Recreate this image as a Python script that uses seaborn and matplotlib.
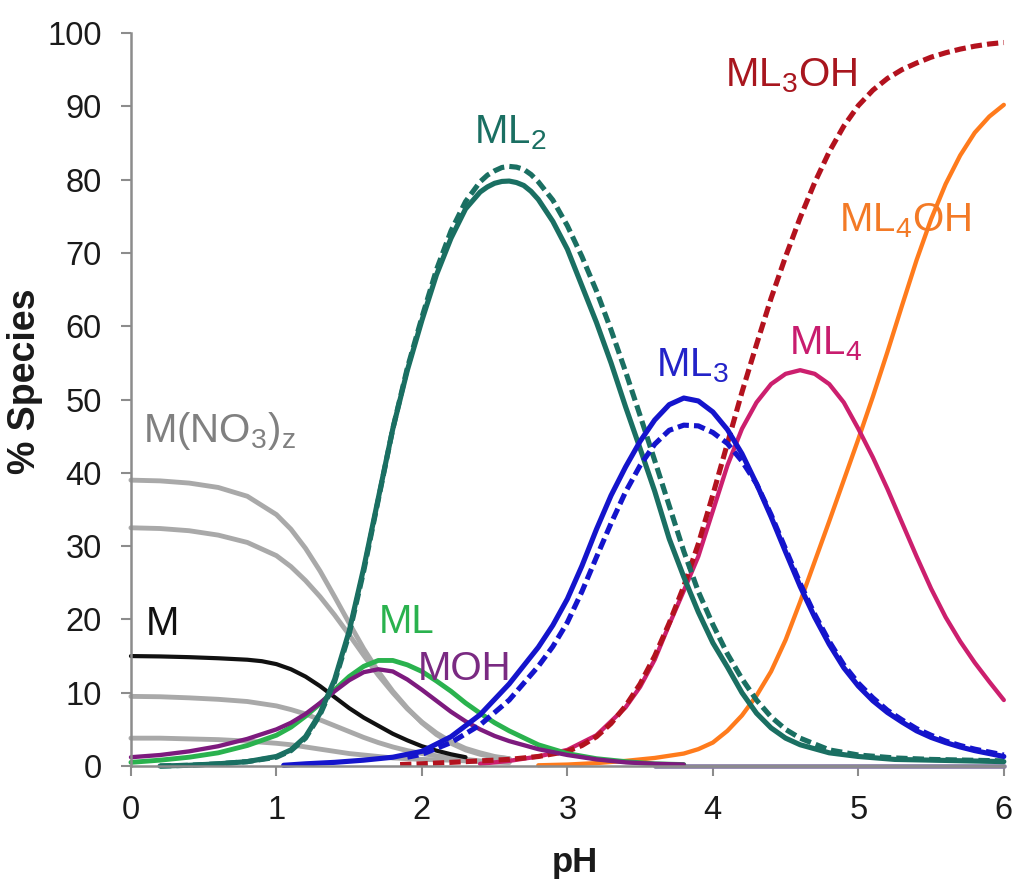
import matplotlib
matplotlib.use("Agg")
import seaborn as sns
from matplotlib import pyplot as plt

# --- species distribution, % of metal vs pH ---
ph_gray = [0, 0.2, 0.4, 0.6, 0.8, 1.0, 1.1, 1.2, 1.3, 1.4, 1.5, 1.6, 1.7, 1.8, 1.9,
           2.0, 2.1, 2.2, 2.3, 2.4, 2.5, 2.6]
no3_a = [39.0, 38.9, 38.6, 38.0, 36.8, 34.3, 32.3, 29.7, 26.6, 23.1, 19.5, 16.0, 12.9,
         10.2, 7.9, 5.9, 4.3, 3.1, 2.2, 1.6, 1.2, 1.0]
no3_b = [32.5, 32.4, 32.1, 31.5, 30.5, 28.7, 27.2, 25.3, 23.1, 20.6, 17.9, 15.1, 12.4,
         10.0, 7.8, 6.0, 4.5, 3.3, 2.4, 1.8, 1.3, 1.0]
no3_c = [9.5, 9.45, 9.3, 9.1, 8.8, 8.2, 7.7, 7.1, 6.3, 5.5, 4.7, 3.9, 3.2, 2.6, 2.1,
         1.7, 1.4, 1.1, 0.9, 0.7, 0.6, 0.5]
no3_d = [3.8, 3.8, 3.7, 3.6, 3.4, 3.1, 2.9, 2.6, 2.3, 2.0, 1.7, 1.5, 1.3, 1.1, 1.0,
         0.9, 0.85, 0.8, 0.7, 0.6, 0.55, 0.5]

ph_m = [0, 0.2, 0.4, 0.6, 0.8, 0.9, 1.0, 1.1, 1.2, 1.3, 1.4, 1.5, 1.6, 1.7, 1.8, 1.9,
        2.0, 2.1, 2.2, 2.3]
m_free = [15.0, 14.95, 14.85, 14.7, 14.5, 14.3, 13.9, 13.2, 12.2, 10.9, 9.4, 7.9, 6.6,
          5.5, 4.4, 3.5, 2.7, 2.1, 1.6, 1.2]

ph_ml = [0, 0.2, 0.4, 0.6, 0.8, 1.0, 1.1, 1.2, 1.3, 1.4, 1.5, 1.6, 1.7, 1.8, 1.9, 2.0,
         2.1, 2.2, 2.3, 2.4, 2.5, 2.6, 2.8, 3.0, 3.2, 3.4, 3.6, 3.8]
ml = [0.5, 0.8, 1.2, 1.8, 2.8, 4.2, 5.3, 6.8, 8.5, 10.4, 12.2, 13.6, 14.4, 14.4, 13.8,
      12.9, 11.6, 10.2, 8.6, 7.2, 5.9, 4.8, 2.9, 1.7, 1.0, 0.6, 0.3, 0.2]
moh = [1.2, 1.5, 2.0, 2.7, 3.7, 5.0, 5.9, 7.1, 8.6, 10.2, 11.7, 12.8, 13.2, 12.9, 11.8,
       10.4, 8.9, 7.4, 6.1, 5.0, 4.1, 3.4, 2.3, 1.5, 0.9, 0.5, 0.3, 0.2]

ph_ml2 = [0.2, 0.4, 0.6, 0.8,
          1.0, 1.1, 1.2, 1.3, 1.4, 1.5, 1.6, 1.7, 1.8, 1.9,
          2.0, 2.1, 2.2, 2.3, 2.4, 2.45, 2.5, 2.55, 2.6, 2.65, 2.7, 2.75, 2.8, 2.9,
          3.0, 3.1, 3.2, 3.3, 3.4, 3.5, 3.6, 3.7, 3.8, 3.9,
          4.0, 4.1, 4.2, 4.3, 4.4, 4.5, 4.6,
          4.8, 5.0, 5.25, 5.5, 5.75, 6.0]
ml2 = [0.0, 0.1, 0.3, 0.6,
       1.3, 2.2, 4.0, 7.2, 11.8, 18.4, 27.0, 36.5, 46.0, 54.0,
       60.8, 67.0, 72.0, 76.0, 78.3, 79.0, 79.5, 79.75, 79.8, 79.6, 79.2, 78.4, 77.3, 74.3,
       70.5, 65.5, 60.5, 55.0, 49.0, 43.3, 37.5, 31.0, 25.8, 21.0,
       16.8, 13.5, 10.0, 7.2, 5.2, 3.8, 2.9,
       1.8, 1.3, 0.9, 0.8, 0.7, 0.6]
ml2_fit = [0.0, 0.1, 0.3, 0.6,
           1.2, 2.1, 3.8, 7.0, 11.5, 18.0, 26.6, 36.3, 46.0, 54.3,
           61.2, 67.7, 73.0, 77.0, 79.7, 80.6, 81.2, 81.65, 81.8, 81.7, 81.4, 80.7, 79.7, 77.2,
           73.7, 69.5, 64.8, 59.5, 53.8, 47.8, 41.7, 35.5, 29.3, 23.8,
           19.3, 15.3, 11.9, 9.0, 6.7, 5.0, 3.8,
           2.2, 1.5, 1.1, 0.9, 0.8, 0.7]

ph_ml3 = [1.05, 1.2, 1.4, 1.6, 1.8, 2.0, 2.2, 2.4, 2.6,
          2.8, 2.9, 3.0, 3.1, 3.2, 3.3, 3.4, 3.5, 3.6, 3.7, 3.8, 3.9,
          4.0, 4.1, 4.2, 4.3, 4.4, 4.5, 4.6, 4.7, 4.8, 4.9,
          5.0, 5.1, 5.2, 5.3, 5.4, 5.5, 5.6, 5.7, 5.8, 5.9, 6.0]
ml3 = [0.1, 0.3, 0.5, 0.8, 1.2, 2.0, 4.0, 7.0, 11.2,
       16.2, 19.2, 22.8, 27.3, 32.3, 36.9, 40.8, 44.3, 47.2, 49.3, 50.2, 49.8,
       48.3, 45.9, 42.6, 38.5, 34.0, 29.2, 24.5, 20.3, 16.6, 13.4,
       10.9, 8.9, 7.3, 6.0, 4.8, 3.9, 3.2, 2.6, 2.1, 1.7, 1.3]

ph_ml3_fit = [1.9, 2.0, 2.2, 2.4, 2.6,
              2.8, 2.9, 3.0, 3.1, 3.2, 3.3, 3.4, 3.5, 3.6, 3.7, 3.8, 3.9,
              4.0, 4.1, 4.2, 4.3, 4.4, 4.5, 4.6, 4.7, 4.8, 4.9,
              5.0, 5.1, 5.2, 5.3, 5.4, 5.5, 5.6, 5.7, 5.8, 5.9, 6.0]
ml3_fit = [1.2, 1.6, 3.2, 5.6, 9.0,
           13.6, 16.3, 19.6, 23.8, 28.5, 33.1, 37.4, 41.0, 43.9, 45.8, 46.5, 46.4,
           45.5, 44.0, 41.6, 38.5, 34.3, 29.6, 24.9, 20.7, 17.0, 13.8,
           11.3, 9.3, 7.6, 6.3, 5.1, 4.2, 3.4, 2.8, 2.3, 1.9, 1.5]

ph_ml3oh = [1.85, 2.0, 2.2, 2.4, 2.6, 2.8,
            3.0, 3.1, 3.2, 3.3, 3.4, 3.5, 3.6, 3.7, 3.8, 3.9,
            4.0, 4.1, 4.2, 4.3, 4.4, 4.5, 4.6, 4.7, 4.8, 4.9,
            5.0, 5.1, 5.2, 5.3, 5.4, 5.5, 5.6, 5.7, 5.8, 5.9, 6.0]
ml3oh = [0.2, 0.3, 0.5, 0.7, 0.9, 1.3,
         2.0, 2.8, 4.0, 5.8, 8.2, 11.2, 15.0, 19.5, 24.5, 30.3,
         37.0, 44.0, 51.0, 57.5, 63.8, 69.5, 74.8, 79.6, 83.8, 87.3,
         90.1, 92.2, 93.8, 95.0, 95.9, 96.7, 97.3, 97.8, 98.2, 98.5, 98.7]

ph_ml4 = [2.4, 2.6, 2.8, 3.0, 3.2, 3.4, 3.5,
          3.6, 3.7, 3.8, 3.9,
          4.0, 4.1, 4.2, 4.3, 4.4, 4.5, 4.6, 4.7, 4.8, 4.9,
          5.0, 5.1, 5.2, 5.3, 5.4, 5.5, 5.6, 5.7, 5.8, 5.9, 6.0]
ml4 = [0.3, 0.7, 1.3, 2.2, 4.2, 8.0, 10.8,
       14.5, 19.3, 23.9, 28.6,
       34.8, 41.0, 46.0, 49.6, 52.1, 53.5, 54.0, 53.5, 52.1, 49.6,
       46.0, 42.1, 37.8, 33.2, 28.6, 24.2, 20.3, 17.0, 14.1, 11.5, 9.0]

ph_ml4oh = [2.8, 3.0, 3.2, 3.4, 3.6, 3.8, 3.9,
            4.0, 4.1, 4.2, 4.3, 4.4, 4.5, 4.6, 4.7, 4.8, 4.9,
            5.0, 5.1, 5.2, 5.3, 5.4, 5.5, 5.6, 5.7, 5.8, 5.9, 6.0]
ml4oh = [0.1, 0.2, 0.4, 0.7, 1.1, 1.7, 2.3,
         3.2, 4.8, 6.9, 9.6, 12.9, 17.2, 22.4, 27.9, 33.4, 39.0,
         44.6, 50.4, 56.5, 62.8, 69.0, 74.6, 79.4, 83.3, 86.4, 88.6, 90.2]

ph_flat = [3.6, 6.0]
flat = [0.0, 0.0]

# colours
c_gray = "#a9a9a9"
c_black = "#111111"
c_green = "#2ab24e"
c_purple = "#7d1a7e"
c_teal = "#1a6f62"
c_blue = "#1414cc"
c_magenta = "#cc1f6e"
c_red = "#b3121e"
c_orange = "#ff7b1c"
c_lav = "#8a7ea8"

sns.set_style("ticks")
plt.rcParams['font.family'] = ['Liberation Sans', 'DejaVu Sans']
plt.rcParams['mathtext.fontset'] = 'custom'
plt.rcParams['mathtext.rm'] = 'Liberation Sans'
plt.rcParams['mathtext.it'] = 'Liberation Sans:italic'
plt.rcParams['mathtext.bf'] = 'Liberation Sans:bold'
plt.rcParams['mathtext.default'] = 'regular'

fig = plt.figure(figsize=(10.15, 8.82), dpi=100)
ax = fig.add_axes([0.129, 0.1315, 0.860, 0.8311])

dash = (0, (2.2, 1.0))


def draw(x, y, color, lw=3.4, ls='-'):
    sns.lineplot(x=x, y=y, ax=ax, color=color, linewidth=lw, linestyle=ls,
                 estimator=None, errorbar=None, clip_on=False)


for g in [no3_a, no3_b, no3_c, no3_d]:
    draw(ph_gray, g, c_gray, lw=3.5)
draw(ph_m, m_free, c_black, lw=3.0)
draw(ph_flat, flat, c_lav, lw=3.4)
draw(ph_ml4oh, ml4oh, c_orange, lw=3.1)
draw(ph_ml4, ml4, c_magenta, lw=3.1)
draw(ph_ml3oh, ml3oh, c_red, lw=3.7, ls=dash)
draw(ph_ml, ml, c_green, lw=3.5)
draw(ph_ml, moh, c_purple, lw=3.1)
draw(ph_ml2, ml2, c_teal, lw=3.7)
draw(ph_ml2, ml2_fit, c_teal, lw=3.7, ls=dash)
draw(ph_ml3, ml3, c_blue, lw=3.7)
draw(ph_ml3_fit, ml3_fit, c_blue, lw=3.7, ls=dash)

# curve labels
labels = [
    ("M(NO$_3$)$_z$", 0.08, 44.2, "#808080"),
    ("M", 0.10, 17.9, c_black),
    ("ML", 1.70, 18.2, c_green),
    ("MOH", 1.97, 11.8, "#7a2a82"),
    ("ML$_2$", 2.36, 85.0, c_teal),
    ("ML$_3$", 3.61, 53.1, "#2323c8"),
    ("ML$_4$", 4.52, 56.2, "#c81c6e"),
    ("ML$_3$OH", 4.08, 92.7, "#a8161e"),
    ("ML$_4$OH", 4.87, 73.0, "#f37a26"),
]
for txt, x, y, col in labels:
    ax.text(x, y, txt, color=col, fontsize=29, ha='left', va='baseline')

ax.set_xlim(0, 6)
ax.set_ylim(0, 100)
ax.set_xticks(range(0, 7))
ax.set_yticks(range(0, 101, 10))
sns.despine(ax=ax)
for s in ['left', 'bottom']:
    ax.spines[s].set_color('#8c8c8c')
    ax.spines[s].set_linewidth(1.8)
ax.tick_params(axis='both', length=7, width=1.5, color='#8c8c8c', pad=14,
               labelsize=23.5, labelcolor='#1a1a1a')

ax.set_xlabel("pH", fontsize=25, fontweight='bold', color='#1a1a1a')
ax.set_ylabel("% Species", fontsize=27, fontweight='bold', color='#1a1a1a')
ax.xaxis.set_label_coords(0.509, -0.109)
ax.yaxis.set_label_coords(-0.101, 0.525)

fig.savefig("out.png", dpi=100)
